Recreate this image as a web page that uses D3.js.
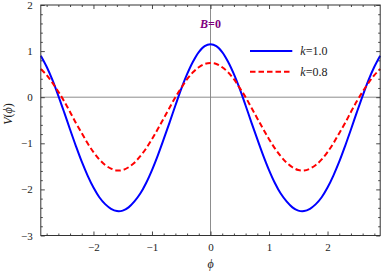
<!DOCTYPE html>
<html>
<head>
<meta charset="utf-8">
<script src="https://cdn.jsdelivr.net/npm/d3@7"></script>
<style>
  body { margin: 0; background: #fff; }
  svg { display: block; }
  text { font-family: "Liberation Serif", "DejaVu Serif", serif; }
</style>
</head>
<body>
<div id="chart"></div>
<script>
// phi samples (left to right)
const phi = [-2.9,-2.8,-2.7,-2.6,-2.5,-2.4,-2.3,-2.2,-2.1,-2.0,-1.9,-1.8,-1.7,-1.6,-1.5,-1.4,-1.3,-1.2,-1.1,-1.0,
  -0.9,-0.8,-0.7,-0.6,-0.5,-0.4,-0.3,-0.2,-0.1,0.0,0.1,0.2,0.3,0.4,0.5,0.6,0.7,0.8,0.9,1.0,
  1.1,1.2,1.3,1.4,1.5,1.6,1.7,1.8,1.9,2.0,2.1,2.2,2.3,2.4,2.5,2.6,2.7,2.8,2.9];

// V(phi), k = 1.0
const vK10 = [0.90,0.66,0.37,0.03,-0.33,-0.70,-1.06,-1.40,-1.70,-1.96,-2.17,-2.32,-2.42,-2.47,-2.46,-2.39,-2.26,-2.09,-1.86,-1.58,
  -1.26,-0.91,-0.55,-0.18,0.18,0.50,0.77,0.98,1.11,1.15,1.11,0.98,0.77,0.50,0.18,-0.18,-0.55,-0.91,-1.26,-1.58,
  -1.86,-2.09,-2.26,-2.39,-2.46,-2.47,-2.42,-2.32,-2.17,-1.96,-1.70,-1.40,-1.06,-0.70,-0.33,0.03,0.37,0.66,0.90];

// V(phi), k = 0.8
const vK08 = [0.61,0.48,0.31,0.12,-0.09,-0.32,-0.56,-0.78,-1.00,-1.19,-1.35,-1.47,-1.55,-1.59,-1.58,-1.52,-1.42,-1.28,-1.11,-0.91,
  -0.69,-0.46,-0.23,0.00,0.20,0.39,0.54,0.65,0.72,0.74,0.72,0.65,0.54,0.39,0.20,0.00,-0.23,-0.46,-0.69,-0.91,
  -1.11,-1.28,-1.42,-1.52,-1.58,-1.59,-1.55,-1.47,-1.35,-1.19,-1.00,-0.78,-0.56,-0.32,-0.09,0.12,0.31,0.48,0.61];

const xTicks = [-2, -1, 0, 1, 2];
const yTicks = [-3, -2, -1, 0, 1, 2];
const seriesNames = ["1.0", "0.8"];

const W = 382, H = 273;
const margin = {top: 5, right: 1.8, bottom: 37.5, left: 40.8};
const width = W - margin.left - margin.right;
const height = H - margin.top - margin.bottom;

const svg = d3.select("#chart").append("svg")
    .attr("width", W).attr("height", H);
const g = svg.append("g")
    .attr("transform", "translate(" + margin.left + "," + margin.top + ")");

const x = d3.scaleLinear().domain([-2.9, 2.9]).range([0, width]);
const y = d3.scaleLinear().domain([-3, 2]).range([height, 0]);

const fmt = d => (d < 0 ? "\u2212" + Math.abs(d) : "" + d);
const xMinor = d3.range(-28, 29, 2).map(d => d / 10).filter(d => !xTicks.includes(d));
const yMinor = d3.range(-30, 21, 2).map(d => d / 10).filter(d => !yTicks.includes(d));

// zero lines
g.append("line")
    .attr("x1", 0).attr("x2", width).attr("y1", y(0)).attr("y2", y(0))
    .attr("stroke", "#808080").attr("stroke-width", 0.9);
g.append("line")
    .attr("x1", x(0)).attr("x2", x(0)).attr("y1", 0).attr("y2", height)
    .attr("stroke", "#808080").attr("stroke-width", 0.9);

// axes, ticks pointing inward on all four sides
function styleAxis(sel) {
    sel.select(".domain").remove();
    sel.selectAll(".tick line").attr("stroke", "#333").attr("stroke-width", 0.9);
    sel.selectAll("text").style("font-size", "11px").attr("fill", "#222")
        .style("font-family", "'Liberation Serif', serif");
}

g.append("g").attr("transform", "translate(0," + height + ")")
    .call(d3.axisBottom(x).tickValues(xTicks).tickSizeInner(-4).tickSizeOuter(0).tickPadding(8).tickFormat(fmt))
    .call(styleAxis);
g.append("g").attr("transform", "translate(0," + height + ")")
    .call(d3.axisBottom(x).tickValues(xMinor).tickSize(-2).tickFormat(""))
    .call(styleAxis);
g.append("g")
    .call(d3.axisTop(x).tickValues(xTicks).tickSize(-4).tickFormat(""))
    .call(styleAxis);
g.append("g")
    .call(d3.axisTop(x).tickValues(xMinor).tickSize(-2).tickFormat(""))
    .call(styleAxis);

g.append("g")
    .call(d3.axisLeft(y).tickValues(yTicks).tickSizeInner(-4).tickSizeOuter(0).tickPadding(8).tickFormat(fmt))
    .call(styleAxis);
g.append("g")
    .call(d3.axisLeft(y).tickValues(yMinor).tickSize(-2).tickFormat(""))
    .call(styleAxis);
g.append("g").attr("transform", "translate(" + width + ",0)")
    .call(d3.axisRight(y).tickValues(yTicks).tickSize(-4).tickFormat(""))
    .call(styleAxis);
g.append("g").attr("transform", "translate(" + width + ",0)")
    .call(d3.axisRight(y).tickValues(yMinor).tickSize(-2).tickFormat(""))
    .call(styleAxis);

// curves
const line = d3.line()
    .x((d, i) => x(phi[i]))
    .y(d => y(d))
    .curve(d3.curveCatmullRom);

g.append("path").datum(vK10)
    .attr("fill", "none").attr("stroke", "#0000ff").attr("stroke-width", 2)
    .attr("d", line);
g.append("path").datum(vK08)
    .attr("fill", "none").attr("stroke", "#ff0000").attr("stroke-width", 2)
    .attr("stroke-dasharray", "5.5,3")
    .attr("d", line);

// frame
g.append("rect")
    .attr("width", width).attr("height", height)
    .attr("fill", "none").attr("stroke", "#333").attr("stroke-width", 1);

// title
const title = g.append("text")
    .attr("x", x(0)).attr("y", 23)
    .attr("text-anchor", "middle")
    .attr("fill", "#800080").style("font-size", "12px").style("font-weight", "bold");
title.append("tspan").style("font-style", "italic").text("B");
title.append("tspan").text("=0");

// legend
const legend = g.append("g");
const legendColors = ["#0000ff", "#ff0000"];
const legendDash = [null, "5.5,3"];
seriesNames.forEach((name, i) => {
    const ly = 46 + i * 20.7;
    legend.append("line")
        .attr("x1", 209.2).attr("x2", 251.5).attr("y1", ly).attr("y2", ly)
        .attr("stroke", legendColors[i]).attr("stroke-width", 2)
        .attr("stroke-dasharray", legendDash[i]);
    const t = legend.append("text")
        .attr("x", 259.5).attr("y", ly + 4)
        .style("font-size", "12px").attr("fill", "#222");
    t.append("tspan").style("font-style", "italic").text("k");
    t.append("tspan").text("=" + name);
});

// axis labels
const xl = svg.append("text")
    .attr("x", margin.left + x(0)).attr("y", 268)
    .attr("text-anchor", "middle").style("font-size", "12px").attr("fill", "#222")
    .style("font-style", "italic").text("\u03d5");

const yl = svg.append("text")
    .attr("transform", "translate(12," + 114 + ") rotate(-90)")
    .attr("text-anchor", "middle").style("font-size", "12px").attr("fill", "#222");
yl.append("tspan").style("font-style", "italic").text("V");
yl.append("tspan").text("(");
yl.append("tspan").style("font-style", "italic").text("\u03d5");
yl.append("tspan").text(")");
</script>
</body>
</html>
